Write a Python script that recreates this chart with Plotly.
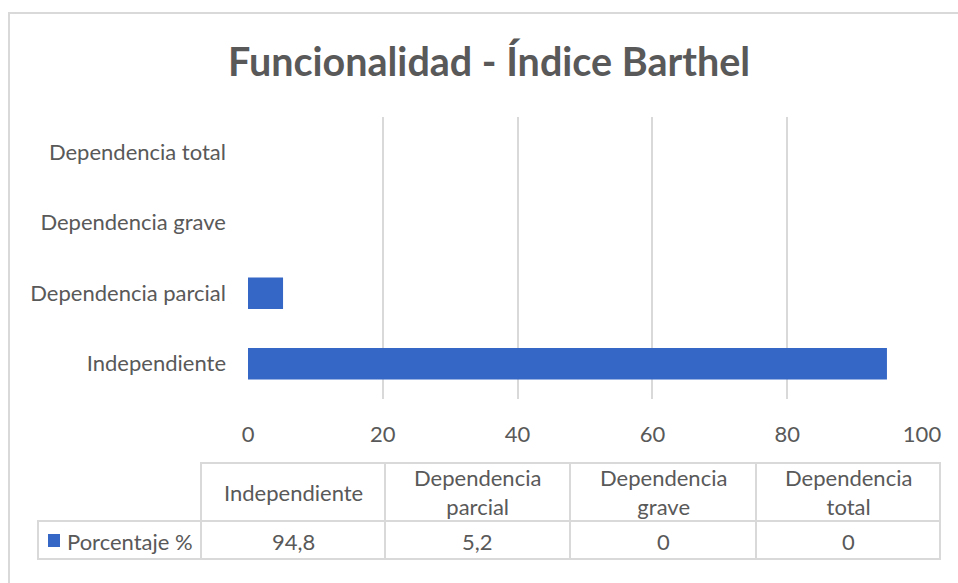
import plotly.graph_objects as go

W, H = 958, 583

categorias = ["Independiente", "Dependencia parcial", "Dependencia grave", "Dependencia total"]
encabezados = ["Independiente", "Dependencia<br>parcial", "Dependencia<br>grave", "Dependencia<br>total"]
porcentaje = [94.8, 5.2, 0, 0]
serie = "Porcentaje %"
ticks_x = [0, 20, 40, 60, 80, 100]

FONT = "Lato"
GRIS = "#595959"
LINEA = "#d9d9d9"
AZUL = "#3467C6"
TAM = 22


def px_x(x):
    return x / W


def px_y(y):
    return 1 - y / H


fig = go.Figure()

fig.add_trace(go.Bar(
    x=porcentaje, y=categorias, orientation="h",
    marker=dict(color=AZUL, line=dict(width=0)),
    width=0.45, hoverinfo="x+y", showlegend=False,
))

# tabla de datos (bordes y textos)
col_x = [201, 385, 570, 756, 940]
fila_y = [463, 521, 559]
lin = dict(color=LINEA, width=2)
shapes = [
    # marco del grafico
    dict(type="rect", xref="paper", yref="paper",
         x0=px_x(9), x1=px_x(1000), y0=px_y(620), y1=px_y(13),
         line=dict(color=LINEA, width=2), layer="below"),
    # celda de la leyenda
    dict(type="rect", xref="paper", yref="paper",
         x0=px_x(38), x1=px_x(col_x[0]), y0=px_y(fila_y[2]), y1=px_y(fila_y[1]),
         line=lin),
    dict(type="rect", xref="paper", yref="paper",
         x0=px_x(48), x1=px_x(60), y0=px_y(547), y1=px_y(534),
         fillcolor=AZUL, line=dict(width=0)),
]
annotations = [
    dict(text=serie, xref="paper", yref="paper", x=px_x(65), y=px_y(541),
         xanchor="left", yanchor="middle", showarrow=False,
         font=dict(family=FONT, size=TAM, color=GRIS)),
]
for i, (enc, val) in enumerate(zip(encabezados, porcentaje)):
    x0, x1 = col_x[i], col_x[i + 1]
    for r in range(2):
        shapes.append(dict(type="rect", xref="paper", yref="paper",
                           x0=px_x(x0), x1=px_x(x1),
                           y0=px_y(fila_y[r + 1]), y1=px_y(fila_y[r]), line=lin))
    xc = px_x((x0 + x1) / 2)
    annotations.append(dict(text=enc, xref="paper", yref="paper", x=xc, y=px_y(492),
                            xanchor="center", yanchor="middle", align="center",
                            showarrow=False, font=dict(family=FONT, size=TAM, color=GRIS)))
    annotations.append(dict(text=f"{val:g}".replace(".", ","), xref="paper", yref="paper",
                            x=xc, y=px_y(541), xanchor="center", yanchor="middle",
                            showarrow=False, font=dict(family=FONT, size=TAM, color=GRIS)))

fig.update_layout(
    width=W, height=H,
    margin=dict(l=0, r=0, t=0, b=0),
    paper_bgcolor="white", plot_bgcolor="white",
    title=dict(
        text="<b>Funcionalidad - Índice Barthel</b>",
        x=px_x(489), xanchor="center", y=px_y(62), yanchor="middle",
        font=dict(family=FONT, size=39.5, color=GRIS),
    ),
    xaxis=dict(
        domain=[px_x(248), px_x(922)], range=[0, 100], tickvals=ticks_x,
        showgrid=True, gridcolor=LINEA, gridwidth=2, zeroline=False,
        ticks="", ticklabelstandoff=20, automargin=False,
        tickfont=dict(family=FONT, size=TAM, color=GRIS),
    ),
    yaxis=dict(
        domain=[px_y(399), px_y(117)], type="category",
        categoryorder="array", categoryarray=categorias,
        showgrid=False, ticks="", ticklabelstandoff=21, automargin=False,
        tickfont=dict(family=FONT, size=TAM, color=GRIS),
    ),
    bargap=0.55,
    shapes=shapes,
    annotations=annotations,
)

fig.write_html("out.html", config={"displayModeBar": False},
               post_script="document.body.style.margin='0';")
